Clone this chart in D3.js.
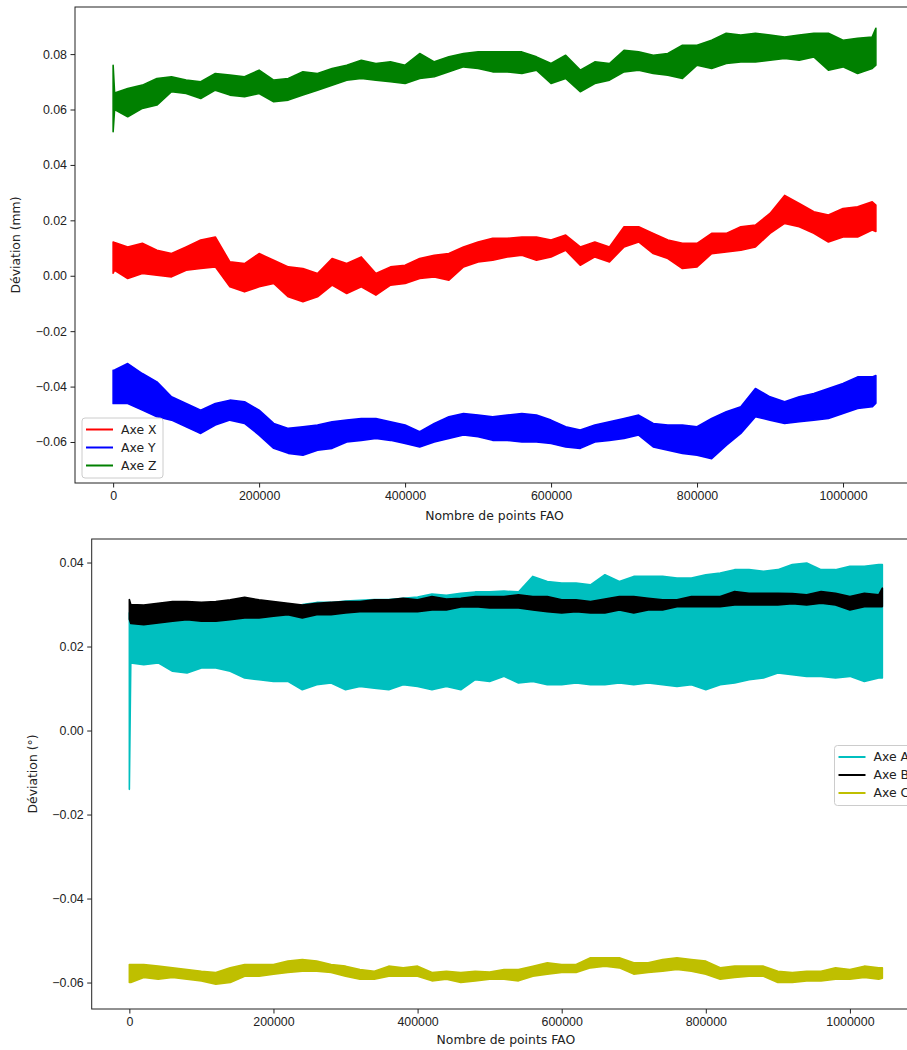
<!DOCTYPE html>
<html>
<head>
<meta charset="utf-8">
<script src="https://cdn.jsdelivr.net/npm/d3@7"></script>
<style>
    body { margin: 0; background: #fff; }
    svg { display: block; font-family: 'DejaVu Sans', sans-serif; }
    .axis text { font-size: 12.4px; fill: #222; }
    .axis line { stroke: #222; }
    .axis-label { font-size: 12.4px; fill: #222; }
    .legend text { font-size: 12.4px; fill: #222; }
</style>
</head>
<body>
<div id="chart"></div>
<script>
// ---- data ----
// sample positions along the FAO point count
const pointsFAO = [0, 2000, 20000, 40000, 60000, 80000, 100000, 120000, 140000, 160000, 180000,
    200000, 220000, 240000, 260000, 280000, 300000, 320000, 340000, 360000, 380000,
    400000, 420000, 440000, 460000, 480000, 500000, 520000, 540000, 560000, 580000,
    600000, 620000, 640000, 660000, 680000, 700000, 720000, 740000, 760000, 780000,
    800000, 820000, 840000, 860000, 880000, 900000, 920000, 940000, 960000, 980000,
    1000000, 1020000, 1040000, 1045000];

// upper / lower envelope of each noisy trace
const axeXHigh = [0.0122, 0.012, 0.0104, 0.0117, 0.0092, 0.0080, 0.0104, 0.0129, 0.0140, 0.0050, 0.0044,
    0.0080, 0.0056, 0.0032, 0.0026, 0.0008, 0.0062, 0.0044, 0.0068, 0.0008, 0.0032,
    0.0038, 0.0062, 0.0074, 0.0080, 0.0104, 0.0122, 0.0135, 0.0135, 0.0140, 0.0140,
    0.0129, 0.0147, 0.0104, 0.0122, 0.0104, 0.0177, 0.0177, 0.0153, 0.0129, 0.0117,
    0.0117, 0.0153, 0.0153, 0.0177, 0.0183, 0.0225, 0.0290, 0.0261, 0.0231, 0.0219,
    0.0243, 0.0249, 0.0267, 0.0255];
const axeXLow = [0.0009, 0.002, -0.0010, 0.0008, 0.0002, -0.0004, 0.0020, 0.0026, 0.0032, -0.0040, -0.0058,
    -0.0040, -0.0028, -0.0076, -0.0094, -0.0076, -0.0034, -0.0064, -0.0040, -0.0070, -0.0034,
    -0.0028, -0.0010, -0.0004, -0.0016, 0.0032, 0.0050, 0.0056, 0.0068, 0.0074, 0.0056,
    0.0068, 0.0092, 0.0038, 0.0068, 0.0050, 0.0104, 0.0122, 0.0080, 0.0062, 0.0026,
    0.0032, 0.0080, 0.0086, 0.0092, 0.0104, 0.0153, 0.0189, 0.0177, 0.0153, 0.0122,
    0.0140, 0.0140, 0.0165, 0.0160];

const axeYHigh = [-0.0341, -0.034, -0.0317, -0.0353, -0.0383, -0.0437, -0.0461, -0.0485, -0.0461, -0.0449, -0.0455,
    -0.0485, -0.0533, -0.0551, -0.0545, -0.0539, -0.0527, -0.0521, -0.0515, -0.0515, -0.0527,
    -0.0539, -0.0563, -0.0533, -0.0509, -0.0497, -0.0503, -0.0509, -0.0503, -0.0497, -0.0503,
    -0.0521, -0.0545, -0.0557, -0.0539, -0.0527, -0.0515, -0.0503, -0.0533, -0.0539, -0.0539,
    -0.0545, -0.0515, -0.0491, -0.0473, -0.0407, -0.0437, -0.0455, -0.0437, -0.0425, -0.0407,
    -0.0389, -0.0365, -0.0365, -0.0360];
const axeYLow = [-0.0461, -0.046, -0.0461, -0.0485, -0.0509, -0.0521, -0.0545, -0.0569, -0.0539, -0.0521, -0.0533,
    -0.0575, -0.0623, -0.0641, -0.0648, -0.0630, -0.0623, -0.0600, -0.0594, -0.0587, -0.0594,
    -0.0605, -0.0618, -0.0600, -0.0587, -0.0575, -0.0581, -0.0594, -0.0594, -0.0600, -0.0600,
    -0.0605, -0.0618, -0.0623, -0.0600, -0.0594, -0.0587, -0.0575, -0.0618, -0.0630, -0.0641,
    -0.0648, -0.0660, -0.0612, -0.0569, -0.0509, -0.0521, -0.0533, -0.0527, -0.0521, -0.0515,
    -0.0497, -0.0479, -0.0473, -0.0460];

const axeZHigh = [0.076, 0.066, 0.0676, 0.0688, 0.0712, 0.0718, 0.0706, 0.0700, 0.0730, 0.0724, 0.0718,
    0.0742, 0.0706, 0.0712, 0.0736, 0.0730, 0.0748, 0.0760, 0.0778, 0.0766, 0.0772,
    0.0760, 0.0802, 0.0772, 0.0790, 0.0802, 0.0808, 0.0808, 0.0808, 0.0808, 0.0790,
    0.0766, 0.0796, 0.0742, 0.0772, 0.0766, 0.0814, 0.0808, 0.0796, 0.0802, 0.0832,
    0.0832, 0.0850, 0.0875, 0.0869, 0.0875, 0.0869, 0.0862, 0.0869, 0.0875, 0.0875,
    0.0850, 0.0857, 0.0862, 0.0893];
const axeZLow = [0.052, 0.060, 0.0574, 0.0604, 0.0616, 0.0664, 0.0658, 0.0640, 0.0670, 0.0652, 0.0646,
    0.0658, 0.0628, 0.0634, 0.0652, 0.0670, 0.0688, 0.0706, 0.0712, 0.0706, 0.0700,
    0.0694, 0.0712, 0.0718, 0.0736, 0.0754, 0.0748, 0.0736, 0.0736, 0.0730, 0.0742,
    0.0694, 0.0712, 0.0664, 0.0694, 0.0706, 0.0736, 0.0742, 0.0730, 0.0724, 0.0712,
    0.0760, 0.0748, 0.0766, 0.0772, 0.0772, 0.0778, 0.0784, 0.0778, 0.0790, 0.0742,
    0.0754, 0.0730, 0.0748, 0.0760];

const axeAHigh = [0.028, 0.028, 0.0285, 0.0285, 0.0288, 0.0290, 0.0290, 0.0290, 0.0292, 0.0295, 0.0295,
    0.0295, 0.0298, 0.0300, 0.0305, 0.0305, 0.0308, 0.0310, 0.0312, 0.0312, 0.0315,
    0.0318, 0.0325, 0.0322, 0.0327, 0.0330, 0.0330, 0.0332, 0.0330, 0.0367, 0.0355,
    0.0351, 0.0351, 0.0347, 0.0371, 0.0355, 0.0367, 0.0367, 0.0367, 0.0363, 0.0363,
    0.0371, 0.0375, 0.0383, 0.0383, 0.0379, 0.0383, 0.0395, 0.0399, 0.0383, 0.0383,
    0.0391, 0.0391, 0.0395, 0.0395];
const axeALow = [-0.014, 0.0161, 0.0157, 0.0161, 0.0141, 0.0137, 0.0149, 0.0149, 0.0141, 0.0125, 0.0121,
    0.0117, 0.0117, 0.0097, 0.0109, 0.0113, 0.0097, 0.0105, 0.0101, 0.0097, 0.0109,
    0.0105, 0.0097, 0.0105, 0.0097, 0.0121, 0.0117, 0.0129, 0.0113, 0.0117, 0.0109,
    0.0109, 0.0113, 0.0109, 0.0109, 0.0113, 0.0109, 0.0113, 0.0109, 0.0105, 0.0109,
    0.0097, 0.0109, 0.0113, 0.0121, 0.0125, 0.0137, 0.0133, 0.0129, 0.0129, 0.0125,
    0.0129, 0.0117, 0.0125, 0.0125];

const axeBHigh = [0.0312, 0.0300, 0.0299, 0.0303, 0.0307, 0.0307, 0.0305, 0.0307, 0.0311, 0.0317, 0.0311,
    0.0307, 0.0303, 0.0299, 0.0303, 0.0305, 0.0307, 0.0307, 0.0311, 0.0311, 0.0315,
    0.0311, 0.0319, 0.0313, 0.0315, 0.0319, 0.0319, 0.0319, 0.0323, 0.0319, 0.0319,
    0.0311, 0.0311, 0.0307, 0.0313, 0.0319, 0.0319, 0.0315, 0.0311, 0.0311, 0.0319,
    0.0319, 0.0319, 0.0331, 0.0327, 0.0327, 0.0327, 0.0326, 0.0323, 0.0331, 0.0327,
    0.0319, 0.0327, 0.0323, 0.0339];
const axeBLow = [0.0265, 0.0255, 0.0252, 0.0256, 0.0260, 0.0264, 0.0260, 0.0260, 0.0264, 0.0268, 0.0268,
    0.0272, 0.0276, 0.0268, 0.0276, 0.0276, 0.0280, 0.0283, 0.0283, 0.0283, 0.0283,
    0.0283, 0.0287, 0.0287, 0.0294, 0.0295, 0.0292, 0.0292, 0.0292, 0.0287, 0.0283,
    0.0280, 0.0283, 0.0280, 0.0280, 0.0287, 0.0280, 0.0287, 0.0287, 0.0295, 0.0295,
    0.0295, 0.0295, 0.0299, 0.0299, 0.0299, 0.0299, 0.0302, 0.0299, 0.0303, 0.0299,
    0.0287, 0.0295, 0.0295, 0.0295];

const axeCHigh = [-0.0557, -0.0557, -0.0557, -0.0561, -0.0565, -0.0569, -0.0573, -0.0576, -0.0565, -0.0557, -0.0557,
    -0.0557, -0.0549, -0.0545, -0.0549, -0.0557, -0.0561, -0.0569, -0.0573, -0.0561, -0.0565,
    -0.0561, -0.0576, -0.0573, -0.0576, -0.0573, -0.0575, -0.0569, -0.0569, -0.0561, -0.0553,
    -0.0557, -0.0557, -0.0541, -0.0541, -0.0541, -0.0553, -0.0553, -0.0545, -0.0541, -0.0545,
    -0.0549, -0.0565, -0.0561, -0.0561, -0.0561, -0.0573, -0.0576, -0.0573, -0.0573, -0.0565,
    -0.0569, -0.0561, -0.0565, -0.0565];
const axeCLow = [-0.0600, -0.0600, -0.0588, -0.0592, -0.0588, -0.0592, -0.0596, -0.0604, -0.0600, -0.0585, -0.0585,
    -0.0580, -0.0576, -0.0573, -0.0573, -0.0576, -0.0585, -0.0592, -0.0592, -0.0585, -0.0585,
    -0.0585, -0.0596, -0.0592, -0.0600, -0.0596, -0.0592, -0.0592, -0.0596, -0.0585, -0.0580,
    -0.0576, -0.0576, -0.0565, -0.0561, -0.0565, -0.0580, -0.0576, -0.0573, -0.0569, -0.0573,
    -0.0580, -0.0592, -0.0588, -0.0585, -0.0585, -0.0600, -0.0600, -0.0596, -0.0596, -0.0592,
    -0.0592, -0.0588, -0.0592, -0.0590];

// ticks
const xTicks = [0, 200000, 400000, 600000, 800000, 1000000];
const yTicksTop = [-0.06, -0.04, -0.02, 0.00, 0.02, 0.04, 0.06, 0.08];
const yTicksBottom = [-0.06, -0.04, -0.02, 0.00, 0.02, 0.04];

const topSeries = [
    { name: 'Axe X', color: '#ff0000', high: axeXHigh, low: axeXLow },
    { name: 'Axe Y', color: '#0000ff', high: axeYHigh, low: axeYLow },
    { name: 'Axe Z', color: '#008000', high: axeZHigh, low: axeZLow }
];
const bottomSeries = [
    { name: 'Axe A', color: '#00bfbf', high: axeAHigh, low: axeALow },
    { name: 'Axe B', color: '#000000', high: axeBHigh, low: axeBLow },
    { name: 'Axe C', color: '#bfbf00', high: axeCHigh, low: axeCLow }
];

class DeviationChart {
    constructor(svg, config) {
        this.svg = svg;
        this.config = config;
        this.initVis();
    }

    initVis() {
        let vis = this;
        let c = vis.config;

        vis.g = vis.svg.append('g');

        // same x margins as matplotlib (5% each side)
        vis.xScale = d3.scaleLinear()
            .domain([-52250, 1097250])
            .range([c.left, c.right]);

        vis.yScale = d3.scaleLinear()
            .domain(c.yDomain)
            .range([c.bottom, c.top]);

        vis.area = d3.area()
            .x((d, i) => vis.xScale(pointsFAO[i]))
            .y0(d => vis.yScale(d[0]))
            .y1(d => vis.yScale(d[1]));

        vis.drawSeries();
        vis.drawAxes();
        vis.drawLegend();
    }

    drawSeries() {
        let vis = this;

        vis.config.series.forEach(s => {
            let band = s.low.map((lo, i) => [lo, s.high[i]]);
            vis.g.append('path')
                .datum(band)
                .attr('d', vis.area)
                .attr('fill', s.color)
                .attr('stroke', s.color)
                .attr('stroke-width', 1.6)
                .attr('stroke-linejoin', 'round');
        });
    }

    drawAxes() {
        let vis = this;
        let c = vis.config;

        let xAxis = d3.axisBottom(vis.xScale)
            .tickValues(xTicks)
            .tickFormat(d3.format('d'))
            .tickSizeOuter(0)
            .tickSize(4.5)
            .tickPadding(3.5);

        let yAxis = d3.axisLeft(vis.yScale)
            .tickValues(c.yTicks)
            .tickFormat(d3.format('.2f'))
            .tickSizeOuter(0)
            .tickSize(4.5)
            .tickPadding(3.5);

        vis.g.append('g')
            .attr('class', 'axis')
            .attr('transform', `translate(0,${c.bottom})`)
            .call(xAxis)
            .call(g => g.select('.domain').remove())
            .selectAll('text').attr('font-family', null).attr('font-size', null);

        vis.g.append('g')
            .attr('class', 'axis')
            .attr('transform', `translate(${c.left},0)`)
            .call(yAxis)
            .call(g => g.select('.domain').remove())
            .selectAll('text').attr('font-family', null).attr('font-size', null);

        // frame
        vis.g.append('rect')
            .attr('x', c.left)
            .attr('y', c.top)
            .attr('width', c.right - c.left)
            .attr('height', c.bottom - c.top)
            .attr('fill', 'none')
            .attr('stroke', '#222')
            .attr('stroke-width', 1);

        vis.g.append('text')
            .attr('class', 'axis-label')
            .attr('x', (c.left + c.right) / 2)
            .attr('y', c.xLabelY)
            .attr('text-anchor', 'middle')
            .text('Nombre de points FAO');

        vis.g.append('text')
            .attr('class', 'axis-label')
            .attr('transform', `translate(${c.yLabelX},${(c.top + c.bottom) / 2}) rotate(-90)`)
            .attr('text-anchor', 'middle')
            .attr('dy', '0.35em')
            .text(c.yLabel);
    }

    drawLegend() {
        let vis = this;
        let lg = vis.config.legend;

        let legend = vis.g.append('g')
            .attr('class', 'legend')
            .attr('transform', `translate(${lg.x},${lg.y})`);

        legend.append('rect')
            .attr('width', lg.width)
            .attr('height', 60)
            .attr('rx', 3)
            .attr('fill', '#fff')
            .attr('fill-opacity', 0.8)
            .attr('stroke', '#cccccc')
            .attr('stroke-width', 1);

        vis.config.series.forEach((s, i) => {
            let y = 11.5 + i * 18;
            legend.append('line')
                .attr('x1', 4).attr('x2', 31)
                .attr('y1', y).attr('y2', y)
                .attr('stroke', s.color)
                .attr('stroke-width', 2);
            legend.append('text')
                .attr('x', 39)
                .attr('y', y)
                .attr('dy', '0.35em')
                .text(s.name);
        });
    }
}

const svg = d3.select('#chart').append('svg')
    .attr('width', 907)
    .attr('height', 1050);

new DeviationChart(svg, {
    left: 75, right: 914, top: 7, bottom: 483,
    yDomain: [-0.0748, 0.097],
    yTicks: yTicksTop,
    yLabel: 'Déviation (mm)',
    yLabelX: 16,
    xLabelY: 520,
    series: topSeries,
    legend: { x: 82, y: 418, width: 81 }
});

new DeviationChart(svg, {
    left: 91.7, right: 920, top: 539, bottom: 1009,
    yDomain: [-0.0663, 0.0456],
    yTicks: yTicksBottom,
    yLabel: 'Déviation (°)',
    yLabelX: 33,
    xLabelY: 1044,
    series: bottomSeries,
    legend: { x: 834.5, y: 745.5, width: 81 }
});
</script>
</body>
</html>
